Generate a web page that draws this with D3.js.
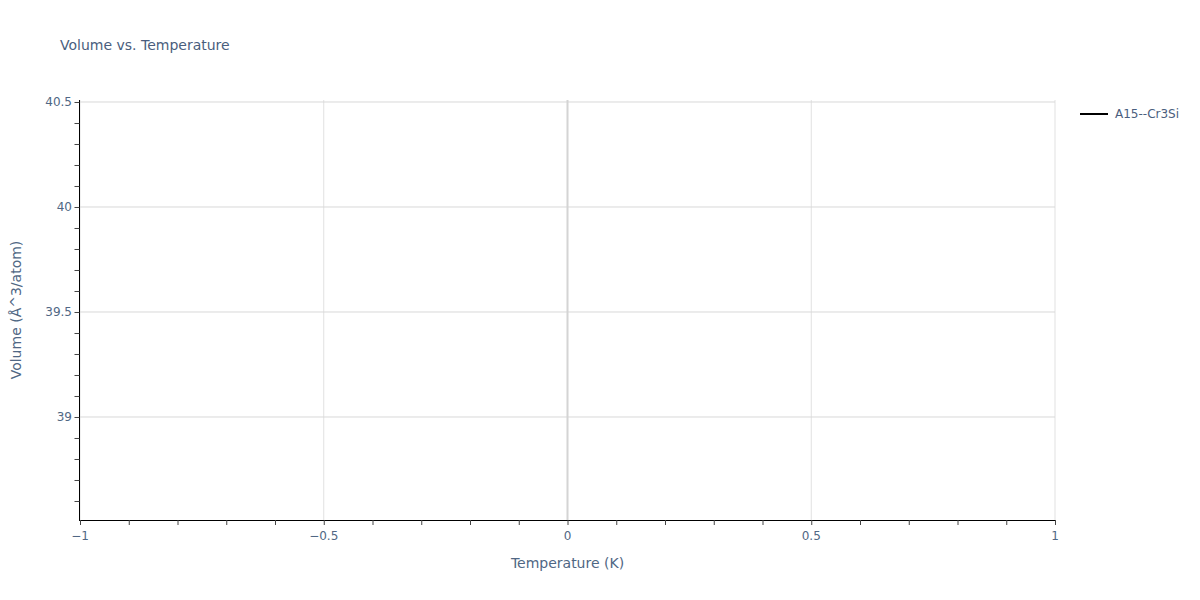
<!doctype html>
<html lang="en">
  <head>
    <meta charset="utf-8">
    <title>Volume vs. Temperature</title>
    <script src="https://d3js.org/d3.v7.min.js"></script>
    <style>
    body { margin: 0; background: #fff; }
    text { font-family: "DejaVu Sans", verdana, arial, sans-serif; fill: #4a5e7d; }
    text.axis-label { fill: #506784; }
    </style>
  </head>
  <body>
    <svg width="1200" height="600"></svg>
    <script>
      // series data (the trace is present in the legend but has no points)
      var seriesNames = ['A15--Cr3Si'];
      var temperatures = [];
      var volumes = [];
      var xTicks = [-1, -0.5, 0, 0.5, 1];
      var yTicks = [39, 39.5, 40, 40.5];

      var svg = d3.select('svg');
      var mLeft = 80, mRight = 1055, mTop = 100, mBottom = 520;

      var x = d3.scaleLinear().domain([-1, 1]).range([mLeft, mRight]);
      var y = d3.scaleLinear().domain([38.5095, 40.5095]).range([mBottom, mTop]);

      // grid
      svg.append('g').selectAll('line').data(xTicks.filter(function(d){ return d !== 0; }))
        .enter().append('line')
          .attr('x1', function(d){ return x(d); }).attr('x2', function(d){ return x(d); })
          .attr('y1', mTop).attr('y2', mBottom)
          .attr('stroke', '#e1e1e1').attr('stroke-width', 1);
      svg.append('g').selectAll('line').data(yTicks)
        .enter().append('line')
          .attr('x1', mLeft).attr('x2', mRight)
          .attr('y1', function(d){ return y(d); }).attr('y2', function(d){ return y(d); })
          .attr('stroke', '#d9d9d9').attr('stroke-width', 1);
      // zero line
      svg.append('line')
        .attr('x1', x(0)).attr('x2', x(0)).attr('y1', mTop).attr('y2', mBottom)
        .attr('stroke', '#d4d4d4').attr('stroke-width', 2);

      // minor ticks
      var xMinor = d3.range(-10, 11).map(function(i){ return i / 10; });
      var yMinor = d3.range(386, 406).map(function(i){ return i / 10; });

      var xAxis = d3.axisBottom(x).tickValues(xMinor).tickSize(5).tickFormat('');
      var gx = svg.append('g').attr('transform', 'translate(0,' + mBottom + ')').call(xAxis);
      gx.select('.domain').attr('stroke', '#000').attr('d', 'M' + (mLeft - 1) + ',0.5H' + mRight);
      gx.selectAll('.tick line').attr('stroke', '#444');

      svg.append('g').selectAll('text').data(xTicks).enter().append('text')
        .attr('class', 'axis-label')
        .attr('x', function(d){ return x(d); }).attr('y', 540)
        .attr('text-anchor', 'middle').style('font-size', '12px')
        .text(function(d){ return d3.format('')(d); });

      var yAxis = d3.axisLeft(y).tickValues(yMinor).tickSize(5).tickFormat('');
      var gy = svg.append('g').attr('transform', 'translate(' + (mLeft - 0.5) + ',0)').call(yAxis);
      gy.select('.domain').attr('stroke', '#000').attr('d', 'M0,' + mTop + 'V' + (mBottom + 1));
      gy.selectAll('.tick line').attr('stroke', '#444');

      svg.append('g').selectAll('text').data(yTicks).enter().append('text')
        .attr('class', 'axis-label')
        .attr('x', 72).attr('y', function(d){ return y(d) + 4; })
        .attr('text-anchor', 'end').style('font-size', '12px')
        .text(function(d){ return d3.format('')(d); });

      // series (empty)
      var line = d3.line().x(function(d, i){ return x(temperatures[i]); }).y(function(d){ return y(d); });
      svg.append('path').datum(volumes).attr('d', line)
        .attr('fill', 'none').attr('stroke', '#000').attr('stroke-width', 2);

      // titles
      svg.append('text').attr('x', 60).attr('y', 50).style('font-size', '14px')
        .text('Volume vs. Temperature');
      svg.append('text').attr('class', 'axis-label')
        .attr('x', (mLeft + mRight) / 2).attr('y', 568)
        .attr('text-anchor', 'middle').style('font-size', '14px')
        .text('Temperature (K)');
      svg.append('text').attr('class', 'axis-label')
        .attr('transform', 'translate(21,' + ((mTop + mBottom) / 2) + ') rotate(-90)')
        .attr('text-anchor', 'middle').style('font-size', '14px')
        .text('Volume (Å^3/atom)');

      // legend
      var legend = svg.append('g').selectAll('g').data(seriesNames).enter().append('g')
        .attr('transform', function(d, i){ return 'translate(1080,' + (114 + i * 19) + ')'; });
      legend.append('line').attr('x1', 0).attr('x2', 28).attr('y1', 0).attr('y2', 0)
        .attr('stroke', '#000').attr('stroke-width', 2);
      legend.append('text').attr('x', 35).attr('y', 4).style('font-size', '12px')
        .text(function(d){ return d; });
    </script>
  </body>
</html>
